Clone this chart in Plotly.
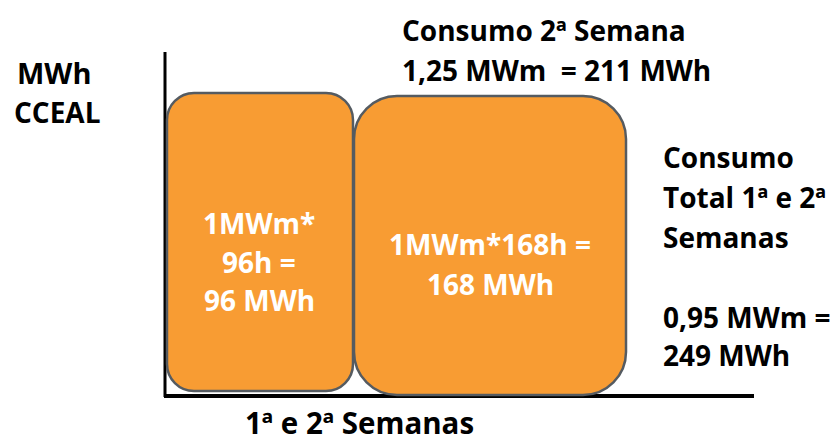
import plotly.graph_objects as go

# ---- data (text content of the diagram) ----
week_labels = ["1ª Semana (parcial)", "2ª Semana"]
hours = [96, 168]
mwm = [1, 1]
box_lines = [["1MWm*", "96h =", "96 MWh"], ["1MWm*168h =", "168 MWh"]]
y_title = ["MWh", "CCEAL"]
x_title = "1ª e 2ª Semanas"
top_note = ["Consumo 2ª Semana", "1,25 MWm  = 211 MWh"]
right_note = ["Consumo", "Total 1ª e 2ª", "Semanas", "", "0,95 MWm =", "249 MWh"]

# ---- layout geometry (pixel-like coordinates) ----
W, H = 838, 436
boxes = [dict(x0=167, x1=353, y0=93, y1=391, r=27),
         dict(x0=354, x1=626, y0=96, y1=395, r=43)]
FILL = "#F89C33"
EDGE = "#555B61"
FONT = "Open Sans"
FS = 28


def rrect(x0, x1, y0, y1, r):
    k = 0.5523 * r
    return (f"M{x0+r},{y0} L{x1-r},{y0} C{x1-r+k},{y0} {x1},{y0+r-k} {x1},{y0+r} "
            f"L{x1},{y1-r} C{x1},{y1-r+k} {x1-r+k},{y1} {x1-r},{y1} "
            f"L{x0+r},{y1} C{x0+r-k},{y1} {x0},{y1-r+k} {x0},{y1-r} "
            f"L{x0},{y0+r} C{x0},{y0+r-k} {x0+r-k},{y0} {x0+r},{y0} Z")


fig = go.Figure()
fig.add_trace(go.Scatter(x=[0, W], y=[0, H], mode="markers",
                         marker=dict(opacity=0), hoverinfo="skip", showlegend=False))

shapes = []
# axes lines
shapes.append(dict(type="line", x0=165, x1=165, y0=52, y1=397,
                   line=dict(color="black", width=3), layer="above"))
shapes.append(dict(type="line", x0=164, x1=754, y0=396, y1=396,
                   line=dict(color="black", width=4), layer="above"))
for b in boxes:
    shapes.append(dict(type="path", path=rrect(b["x0"], b["x1"], b["y0"], b["y1"], b["r"]),
                       fillcolor=FILL, line=dict(color=EDGE, width=2.5), layer="above"))

ann = []


def add_text(txt, x, y, color="black", xanchor="left", size=FS):
    ann.append(dict(text=f"<b>{txt}</b>", x=x, y=y, xref="x", yref="y", showarrow=False,
                    xanchor=xanchor, yanchor="middle",
                    font=dict(family=FONT, size=size, color=color)))


# box texts
for i, y in enumerate([223, 262, 300]):
    add_text(box_lines[0][i], 259, y, "white", "center")
for i, y in enumerate([244, 284]):
    add_text(box_lines[1][i], 490, y, "white", "center")

# y title
add_text(y_title[0], 15, 72, size=29)
add_text(y_title[1], 12, 112)
# x title
add_text(x_title, 243, 422, size=29.5)
# top note
add_text(top_note[0], 400, 30)
add_text(top_note[1], 400, 70)
# right note
for t, y in zip(right_note, [157, 197, 237, 277, 317, 355]):
    if t:
        add_text(t, 661, y)

fig.update_layout(
    width=W, height=H, margin=dict(l=0, r=0, t=0, b=0),
    paper_bgcolor="white", plot_bgcolor="white",
    xaxis=dict(range=[0, W], visible=False, fixedrange=True),
    yaxis=dict(range=[H, 0], visible=False, fixedrange=True),
    shapes=shapes, annotations=ann, showlegend=False,
)
fig.write_html("out.html", config={"displayModeBar": False},
               post_script="document.body.style.margin='0';document.body.style.overflow='hidden';")
